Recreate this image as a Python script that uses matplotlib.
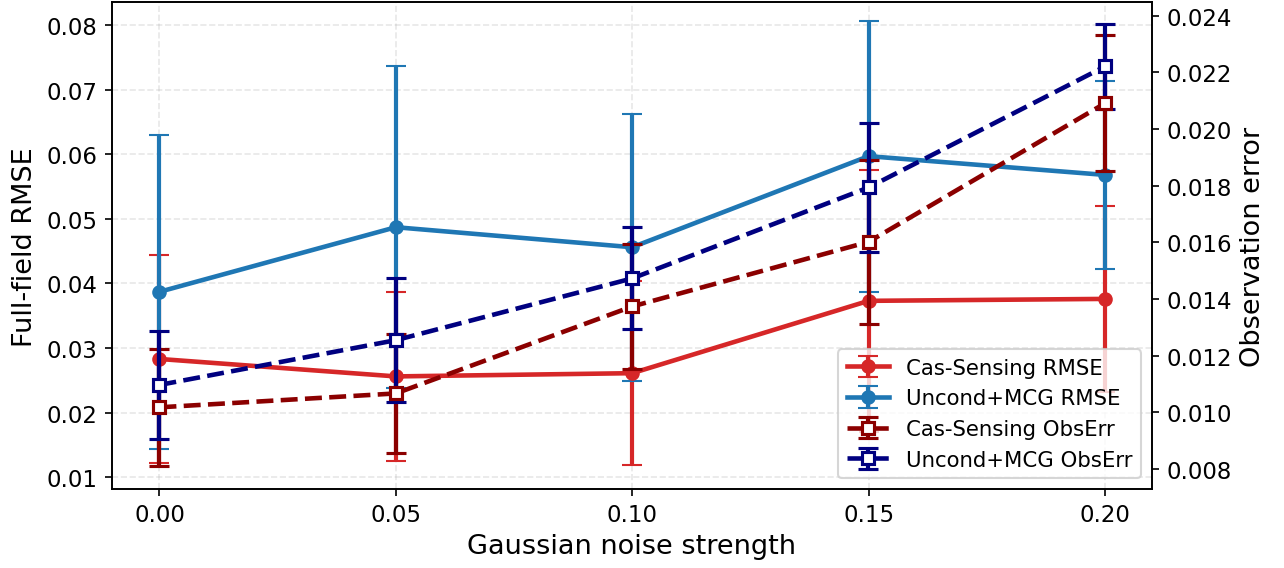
import numpy as np
import matplotlib
matplotlib.use('Agg')
import matplotlib.pyplot as plt

noise = [0.00, 0.05, 0.10, 0.15, 0.20]

cas_rmse = [0.0283, 0.0256, 0.0261, 0.0373, 0.0376]
cas_rmse_std = [0.0161, 0.0131, 0.0142, 0.0203, 0.0144]
mcg_rmse = [0.0387, 0.0487, 0.0456, 0.0597, 0.0568]
mcg_rmse_std = [0.0243, 0.0249, 0.0207, 0.0210, 0.0145]

cas_obs = [0.01018, 0.01067, 0.01374, 0.01602, 0.02091]
cas_obs_std = [0.00206, 0.00210, 0.00220, 0.00290, 0.00240]
mcg_obs = [0.01097, 0.01255, 0.01473, 0.01794, 0.02221]
mcg_obs_std = [0.00190, 0.00218, 0.00180, 0.00229, 0.00150]

fig, ax1 = plt.subplots(figsize=(8.56, 3.793), dpi=150)
fig.subplots_adjust(left=0.087, right=0.897, top=0.994, bottom=0.139)

h1 = ax1.errorbar(noise, cas_rmse, yerr=cas_rmse_std, color='#d62728', marker='o',
                  markersize=6, linewidth=2.2, elinewidth=2, capsize=5,
                  label='Cas-Sensing RMSE')
h2 = ax1.errorbar(noise, mcg_rmse, yerr=mcg_rmse_std, color='#1f77b4', marker='o',
                  markersize=6, linewidth=2.2, elinewidth=2, capsize=5,
                  label='Uncond+MCG RMSE')
ax1.set_xlim(-0.0101, 0.2099)
ax1.set_ylim(0.00818, 0.0835)
ax1.set_xticks(noise)
ax1.set_xticklabels([f'{v:.2f}' for v in noise])
ax1.set_xlabel('Gaussian noise strength', fontsize=13, labelpad=3)
ax1.set_ylabel('Full-field RMSE', fontsize=13)
ax1.tick_params(labelsize=11)
ax1.grid(True, linestyle='--', alpha=0.3)

ax2 = ax1.twinx()
h3 = ax2.errorbar(noise, cas_obs, yerr=cas_obs_std, color='darkred', marker='s',
                  markersize=6, markerfacecolor='white', markeredgewidth=1.5,
                  linewidth=2.2, linestyle='--', elinewidth=2, capsize=5,
                  label='Cas-Sensing ObsErr')
h4 = ax2.errorbar(noise, mcg_obs, yerr=mcg_obs_std, color='navy', marker='s',
                  markersize=6, markerfacecolor='white', markeredgewidth=1.5,
                  linewidth=2.2, linestyle='--', elinewidth=2, capsize=5,
                  label='Uncond+MCG ObsErr')
ax2.set_ylim(0.0073, 0.02447)
ax2.set_yticks(np.arange(0.008, 0.0241, 0.002))
ax2.set_ylabel('Observation error', fontsize=13)
ax2.tick_params(labelsize=11)

ax2.legend(handles=[h1, h2, h3, h4], loc='lower right', fontsize=10.2)

fig.savefig('out.png', dpi=150)
